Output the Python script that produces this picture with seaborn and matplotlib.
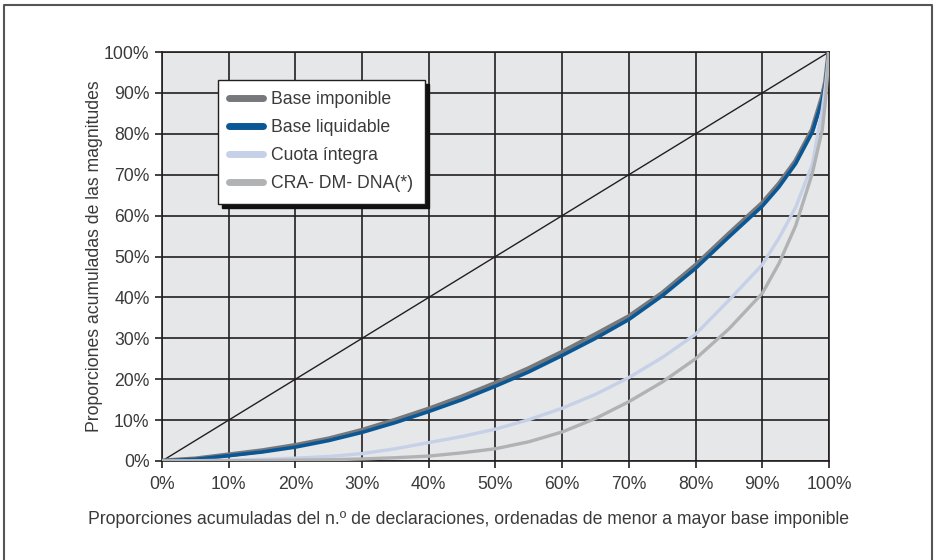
import numpy as np
import pandas as pd
import matplotlib
matplotlib.use('Agg')
import matplotlib.pyplot as plt
from matplotlib.ticker import PercentFormatter, MultipleLocator
import seaborn as sns

# Curvas de concentración (en %)
x_decl = [0, 5, 10, 15, 20, 25, 30, 35, 40, 45, 50, 55, 60, 65, 70, 75, 80, 85, 90,
          92.5, 95, 97.5, 99, 99.5, 100]
base_imponible = [0, 0.5, 1.5, 2.5, 3.8, 5.4, 7.5, 10.0, 12.7, 15.7, 19.0, 22.6, 26.6,
                  30.9, 35.3, 41.0, 47.8, 55.5, 63.0, 67.7, 73.3, 81.0, 89.0, 92.8, 100]
base_liquidable = [0, 0.4, 1.3, 2.2, 3.4, 5.0, 7.0, 9.4, 12.1, 15.0, 18.3, 21.8, 25.8,
                   30.0, 34.6, 40.4, 47.1, 54.8, 62.3, 67.0, 72.7, 80.4, 88.3, 92.3, 100]
cuota_integra = [0, 0.05, 0.2, 0.4, 0.7, 1.1, 1.8, 3.0, 4.5, 6.0, 7.8, 10.1, 12.9,
                 16.3, 20.4, 25.3, 31.0, 39.3, 48.0, 54.5, 62.0, 72.5, 86.0, 92.0, 100]
cra_dm_dna = [0, 0, 0.05, 0.1, 0.2, 0.3, 0.5, 0.8, 1.2, 2.0, 3.0, 4.7, 7.1,
              10.4, 14.5, 19.3, 25.0, 32.3, 41.0, 48.3, 57.5, 70.3, 81.0, 88.5, 100]
diagonal = [0, 100]

series = {
    'Base imponible': base_imponible,
    'Base liquidable': base_liquidable,
    'Cuota íntegra': cuota_integra,
    'CRA- DM- DNA(*)': cra_dm_dna,
}
colores = {
    'Base imponible': '#77787b',
    'Base liquidable': '#0a5796',
    'Cuota íntegra': '#c6d0e7',
    'CRA- DM- DNA(*)': '#b1b2b4',
}
grosor = {
    'Base imponible': 3.6,
    'Base liquidable': 2.6,
    'Cuota íntegra': 2.4,
    'CRA- DM- DNA(*)': 2.4,
}

sns.set_style('white')
plt.rcParams['font.family'] = ['Liberation Sans', 'DejaVu Sans']
color_texto = '#3a3a3a'
tam = 12.7

fig = plt.figure(figsize=(9.37, 5.6), dpi=100)
ax = fig.add_axes([0.1729, 0.1768, 0.7118, 0.7303])
ax.set_facecolor('#e6e7e8')

# diagonal de equidistribución
sns.lineplot(x=diagonal, y=diagonal, color='#231f20', linewidth=1.0, ax=ax, zorder=3)

for nombre, valores in series.items():
    sns.lineplot(x=x_decl, y=valores, color=colores[nombre], linewidth=grosor[nombre],
                 label=nombre, ax=ax, zorder=4, sort=False)

ax.set_xlim(0, 100)
ax.set_ylim(0, 100)
ax.xaxis.set_major_locator(MultipleLocator(10))
ax.yaxis.set_major_locator(MultipleLocator(10))
ax.xaxis.set_major_formatter(PercentFormatter(decimals=0))
ax.yaxis.set_major_formatter(PercentFormatter(decimals=0))
ax.grid(True, color='#231f20', linewidth=1.2, zorder=2)
ax.set_axisbelow(True)
for s in ax.spines.values():
    s.set_color('#231f20')
    s.set_linewidth(1.2)

ax.tick_params(axis='both', direction='out', length=5, width=1.2, color='#231f20',
               labelsize=tam, labelcolor=color_texto, bottom=True, left=True)
ax.tick_params(axis='x', pad=6)
ax.tick_params(axis='y', pad=4)

ax.set_xlabel('Proporciones acumuladas del n.º de declaraciones, ordenadas de menor a mayor base imponible',
              fontsize=tam, color=color_texto)
ax.set_ylabel('Proporciones acumuladas de las magnitudes', fontsize=tam,
              color=color_texto, labelpad=0.5)
# el título del eje x va centrado en la figura, no en el área de trazado
ax.xaxis.set_label_coords(0.459, -0.122)

leg = ax.legend(loc='upper left', bbox_to_anchor=(0.084, 0.932), borderaxespad=0,
                fontsize=tam, frameon=True, fancybox=False, framealpha=1,
                edgecolor='#231f20', handlelength=1.9, handletextpad=0.45,
                labelspacing=0.62, borderpad=0.65,
                shadow={'color': '#111111', 'alpha': 1, 'ox': 3, 'oy': -3})
leg.get_frame().set_linewidth(1.0)
leg.set_zorder(10)
for h in leg.get_lines():
    h.set_linewidth(5)
for t in leg.get_texts():
    t.set_color(color_texto)

# marco exterior de la figura
marco_x = [4 / 937, 4 / 937, 932 / 937, 932 / 937]
marco_y = [0.0, 1 - 5 / 560, 1 - 5 / 560, 0.0]
fig.add_artist(plt.Line2D(marco_x, marco_y, transform=fig.transFigure,
                          color='#555555', linewidth=1.5))

fig.savefig('out.png', dpi=100)
plt.close(fig)
